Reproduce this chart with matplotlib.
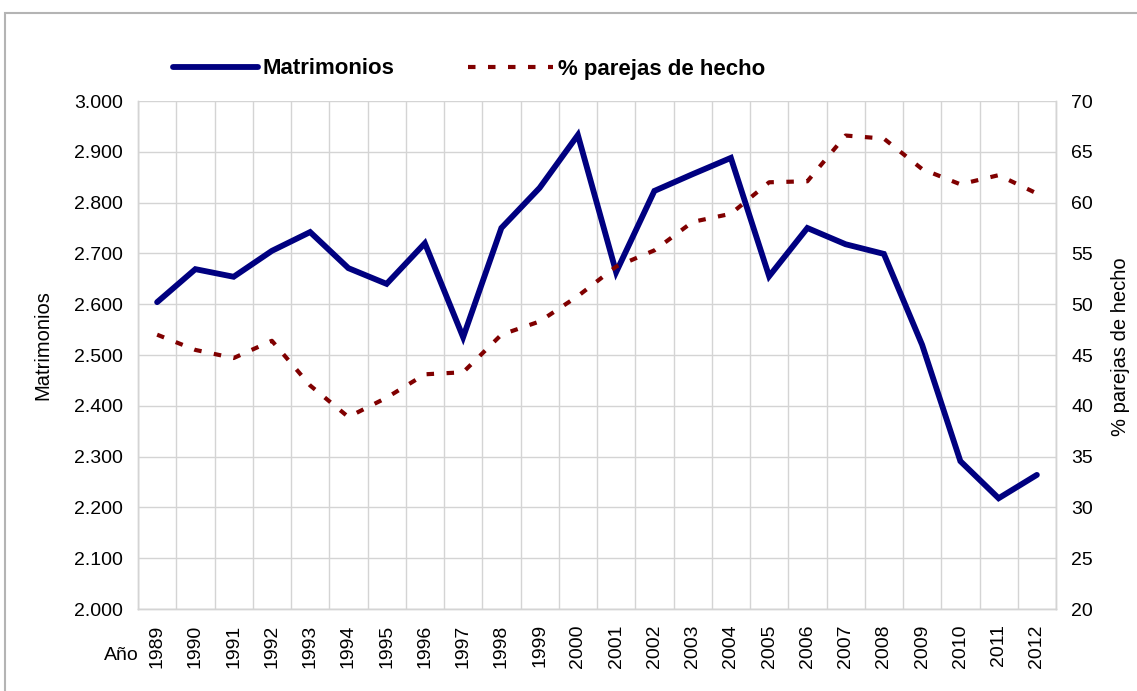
import matplotlib
matplotlib.use("Agg")
import matplotlib.pyplot as plt
from matplotlib.patches import Rectangle
from matplotlib.ticker import FixedLocator, FuncFormatter
import numpy as np

plt.rcParams['font.family'] = ['Liberation Sans', 'DejaVu Sans']

years = [str(y) for y in range(1989, 2013)]
matrimonios = [2.604, 2.669, 2.654, 2.705, 2.742, 2.671, 2.640, 2.720, 2.535, 2.750,
               2.829, 2.933, 2.663, 2.823, 2.856, 2.888, 2.655, 2.750, 2.718, 2.699,
               2.520, 2.291, 2.218, 2.264]
parejas = [47.0, 45.5, 44.7, 46.4, 42.0, 38.9, 40.8, 43.1, 43.3, 47.0,
           48.3, 50.8, 53.7, 55.3, 58.1, 58.9, 62.0, 62.1, 66.6, 66.3,
           63.3, 61.8, 62.7, 60.9]

W, H = 1137, 691
FS = 14
fig = plt.figure(figsize=(W / 100, H / 100), dpi=100)
ax = fig.add_axes([138 / W, 1 - 609 / H, (1056 - 138) / W, (609 - 101) / H])
ax2 = ax.twinx()

x = np.arange(len(years))
l1, = ax.plot(x, matrimonios, color='#000080', lw=4.2, solid_capstyle='round',
              solid_joinstyle='miter', zorder=3)
l2, = ax2.plot(x, parejas, color='#800000', lw=3.0, linestyle=(0, (1.8, 3.0)),
               dash_capstyle='butt', zorder=2)

ax.set_xlim(-0.5, len(years) - 0.5)
ax.set_ylim(2.0, 3.0)
ax2.set_ylim(20, 70)
ax.set_yticks(np.arange(2.0, 3.0001, 0.1))
ax.yaxis.set_major_formatter(FuncFormatter(lambda v, p: f"{v:.3f}"))
ax2.set_yticks(np.arange(20, 71, 5))

ax.set_xticks(x)
ax.set_xticklabels(years, rotation=90, fontsize=FS)
ax.xaxis.set_minor_locator(FixedLocator(np.arange(-0.5, len(years), 1.0)))
ax.tick_params(axis='x', which='both', length=0, pad=11)
ax.tick_params(axis='y', length=0, labelsize=FS, pad=11)
ax2.tick_params(axis='y', length=0, labelsize=FS, pad=11)

ax.grid(True, which='minor', axis='x', color='#d4d4d4', lw=1.0)
ax.grid(True, which='major', axis='y', color='#d4d4d4', lw=1.0)
ax.grid(False, which='major', axis='x')
ax.set_axisbelow(True)
for a in (ax, ax2):
    for s in a.spines.values():
        s.set_color('#d4d4d4')
        s.set_linewidth(1.0)
    a.spines['top'].set_visible(False)

fig.text(43 / W, 1 - 345 / H, 'Matrimonios', fontsize=14.5, rotation=90,
         ha='center', va='center')
fig.text(1120 / W, 1 - 347 / H, '% parejas de hecho', fontsize=14.5, rotation=90,
         ha='center', va='center')
fig.text(121 / W, 1 - 655 / H, 'Año', fontsize=FS, ha='center', va='center')

leg = fig.legend([l1, l2], ['Matrimonios', '% parejas de hecho'], loc='center left',
                 bbox_to_anchor=(173 / W, 1 - 69 / H), ncol=2, frameon=False,
                 prop={'weight': 'bold', 'size': 16}, handlelength=3.83,
                 handletextpad=0.22, columnspacing=3.3, borderaxespad=0, borderpad=0)

fig.add_artist(Rectangle((5 / W, -0.1), 1.2, 1 - 13 / H + 0.1, transform=fig.transFigure,
                         fill=False, edgecolor='#b4b4b4', lw=1.5))

fig.savefig('out.png', dpi=100)
